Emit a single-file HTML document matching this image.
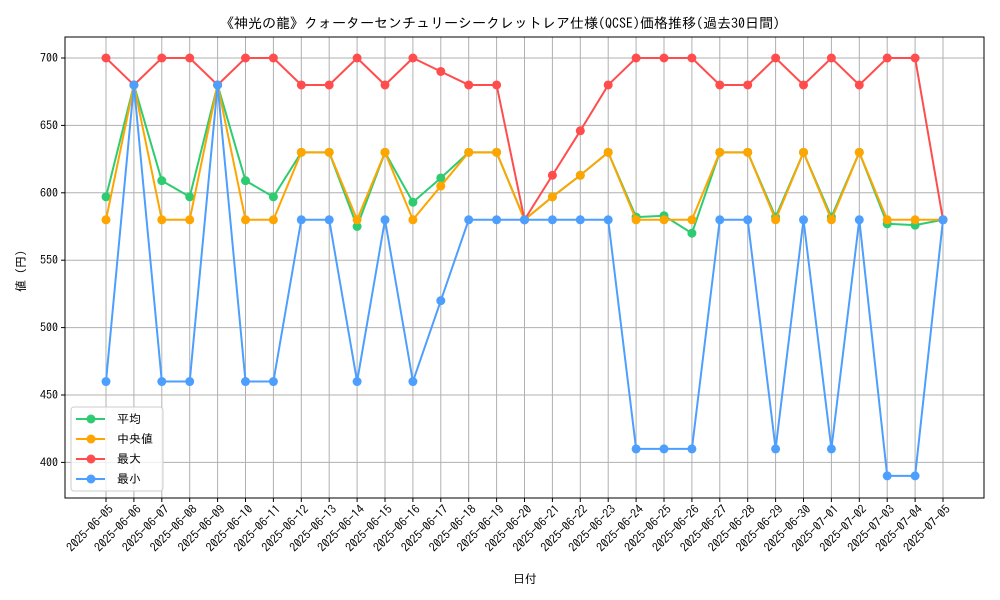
<!DOCTYPE html>
<html><head><meta charset="utf-8"><style>
html,body{margin:0;padding:0;background:#fff;width:1000px;height:600px;overflow:hidden}
svg text{font-family:"IPAGothic","Liberation Sans","Noto Sans CJK JP",sans-serif;fill:#000}
</style></head><body>
<svg id="chart" width="1000" height="600">
<rect x="0" y="0" width="1000" height="600" fill="#fff"/>
<text x="500" y="28" text-anchor="middle" font-size="14">《神光の龍》クォーターセンチュリーシークレットレア仕様(QCSE)価格推移(過去30日間)</text>
<g id="grid"></g><g id="axes"></g><g id="series"></g>
<text x="525" y="583" text-anchor="middle" font-size="12">日付</text>
<text transform="translate(25,268) rotate(-90)" text-anchor="middle" font-size="12">値（円）</text>
<g id="legend"></g>
</svg>
<script>
const dates=["2025-06-05","2025-06-06","2025-06-07","2025-06-08","2025-06-09","2025-06-10","2025-06-11","2025-06-12","2025-06-13","2025-06-14","2025-06-15","2025-06-16","2025-06-17","2025-06-18","2025-06-19","2025-06-20","2025-06-21","2025-06-22","2025-06-23","2025-06-24","2025-06-25","2025-06-26","2025-06-27","2025-06-28","2025-06-29","2025-06-30","2025-07-01","2025-07-02","2025-07-03","2025-07-04","2025-07-05"];
const meanVals=[597,680,609,597,680,609,597,630,630,575,630,593,611,630,630,580,597,613,630,582,583,570,630,630,582,630,582,630,577,576,580];
const medianVals=[580,680,580,580,680,580,580,630,630,580,630,580,605,630,630,580,597,613,630,580,580,580,630,630,580,630,580,630,580,580,580];
const maxVals=[700,680,700,700,680,700,700,680,680,700,680,700,690,680,680,580,613,646,680,700,700,700,680,680,700,680,700,680,700,700,580];
const minVals=[460,680,460,460,680,460,460,580,580,460,580,460,520,580,580,580,580,580,580,410,410,410,580,580,410,580,410,580,390,390,580];
const yTicks=[400,450,500,550,600,650,700];
const seriesNames=["平均","中央値","最大","最小"];
const seriesColors=["#2ecc71","#ffa500","#ff4d4d","#4d9fff"];

const NS="http://www.w3.org/2000/svg";
const L=65,R=984,T=37,B=498;
const x0=106,x1=943;
function xs(i){return x0+(x1-x0)*i/(dates.length-1);}
function ys(v){return 58+(700-v)*(67.4/50);}
function mk(tag,attrs,parent){const e=document.createElementNS(NS,tag);for(const k in attrs)e.setAttribute(k,attrs[k]);parent.appendChild(e);return e;}
const grid=document.getElementById('grid'),axes=document.getElementById('axes'),ser=document.getElementById('series'),leg=document.getElementById('legend');
dates.forEach((d,i)=>{
  const x=xs(i);
  const g=mk('line',{x1:x,x2:x,y1:T,y2:B,stroke:'#b0b0b0','stroke-width':1},grid);
  
  
  mk('line',{x1:x,x2:x,y1:B,y2:B+4,stroke:'#000'},axes);
  const ax=x+8,ay=B+12;
  const t=mk('text',{x:ax,y:ay,'font-size':12,'text-anchor':'end',transform:`rotate(-45 ${ax} ${ay})`},axes);
  t.textContent=d;
  
  
});
yTicks.forEach(v=>{
  const y=ys(v);
  const g=mk('line',{x1:L,x2:R,y1:y,y2:y,stroke:'#b0b0b0','stroke-width':1},grid);
  
  
  mk('line',{x1:L-4,x2:L,y1:y,y2:y,stroke:'#000'},axes);
  const t=mk('text',{x:L-7,y:y+4,'font-size':12,'text-anchor':'end'},axes);
  t.textContent=v;
  
  
});
const frame=mk('rect',{x:L,y:T,width:R-L,height:B-T,fill:'none',stroke:'#000','stroke-width':1},axes);


const allSeries=[meanVals,medianVals,maxVals,minVals];
const keys=['mean','median','max','min'];
allSeries.forEach((vals,s)=>{
  const g=mk('g',{},ser);
  
  
  const pl=mk('polyline',{points:vals.map((v,i)=>xs(i)+','+ys(v)).join(' '),fill:'none',stroke:seriesColors[s],'stroke-width':2},g);
  
  
  vals.forEach((v,i)=>{
    const c=mk('circle',{cx:xs(i),cy:ys(v),r:4.5,fill:seriesColors[s]},g);
    
    
  });
});
const lb=mk('rect',{x:71,y:407,width:92,height:84,rx:3,fill:'#fff','fill-opacity':0.8,stroke:'#ccc'},leg);


seriesNames.forEach((n,s)=>{
  const y=419+s*20;
  const g=mk('g',{},leg);
  
  
  mk('line',{x1:76,x2:105,y1:y,y2:y,stroke:seriesColors[s],'stroke-width':2},g);
  mk('circle',{cx:91,cy:y,r:4.5,fill:seriesColors[s]},g);
  const t=mk('text',{x:117,y:y+4,'font-size':12},g);
  t.textContent=n;
});
</script>
</body></html>
